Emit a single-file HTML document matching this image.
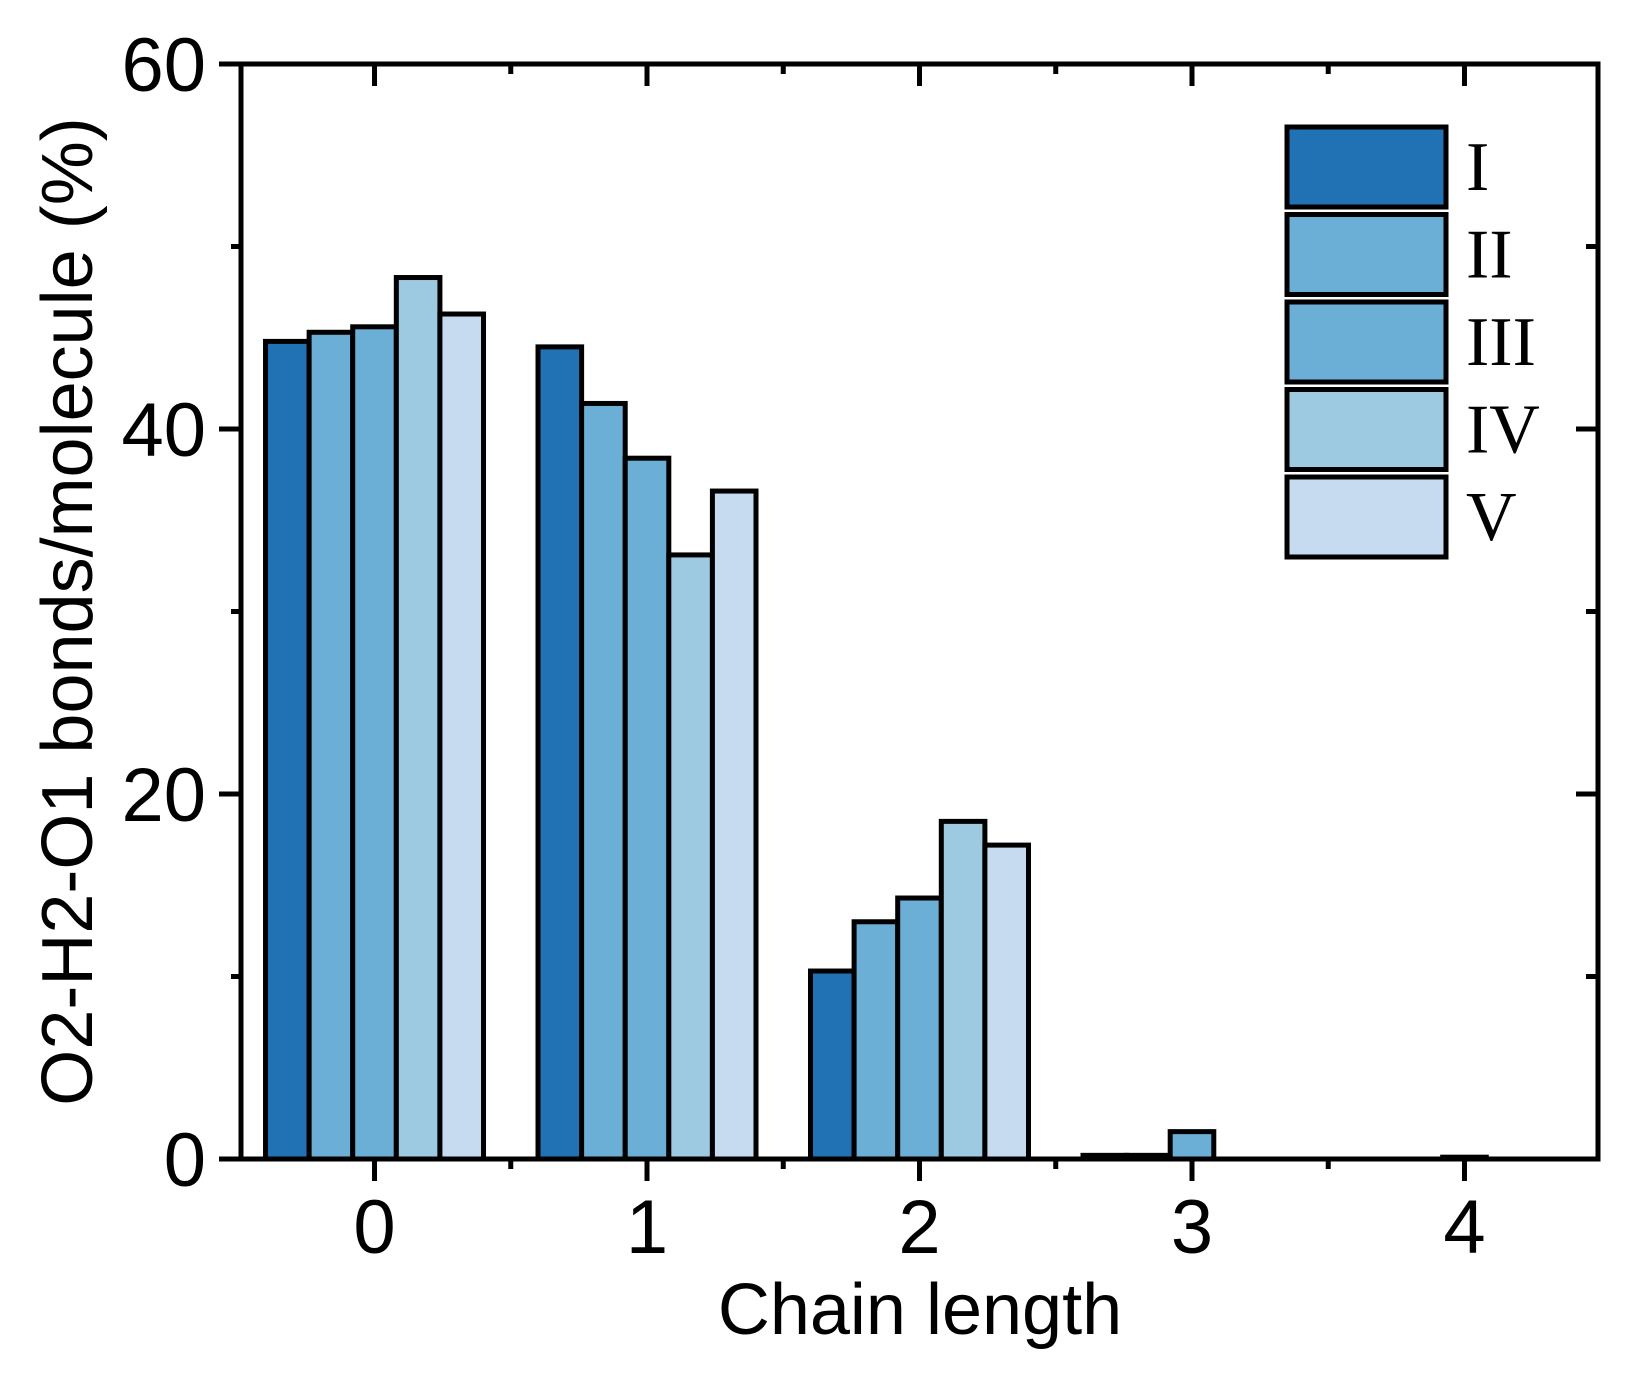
<!DOCTYPE html>
<html><head><meta charset="utf-8"><style>
html,body{margin:0;padding:0;background:#fff;}
svg{display:block;}
</style></head><body>
<svg id="chart" width="1645" height="1389" viewBox="0 0 1645 1389" xmlns="http://www.w3.org/2000/svg">
<g id="bars"></g>
<g id="axes"></g>
<g id="legend"></g>
</svg>
<script>
const categories = [0, 1, 2, 3, 4];
const seriesNames = ["I", "II", "III", "IV", "V"];
const seriesI   = [44.8, 44.5, 10.3, 0.2, 0];
const seriesII  = [45.3, 41.4, 13.0, 0.2, 0];
const seriesIII = [45.6, 38.4, 14.3, 1.5, 0.1];
const seriesIV  = [48.3, 33.1, 18.5, 0, 0];
const seriesV   = [46.3, 36.6, 17.2, 0, 0];
const yTicks = [0, 20, 40, 60];
const yMinor = [10, 30, 50];
const xMinor = [-0.5, 0.5, 1.5, 2.5, 3.5, 4.5];

const colors = ["#2171b5", "#6baed6", "#6baed6", "#9ecae1", "#c6dbef"];
const allSeries = [seriesI, seriesII, seriesIII, seriesIV, seriesV];
const NS = "http://www.w3.org/2000/svg";
const L = 241, R = 1598, T = 64, B = 1159;
const xMin = -0.49, xMax = 4.49, yMin = 0, yMax = 60;
function xs(v){ return L + (v - xMin) / (xMax - xMin) * (R - L); }
function ys(v){ return B - (v - yMin) / (yMax - yMin) * (B - T); }
function mk(tag, attrs, parent){
  const e = document.createElementNS(NS, tag);
  for (const k in attrs) e.setAttribute(k, attrs[k]);
  parent.appendChild(e);
  return e;
}
const barsG = document.getElementById('bars');
const axesG = document.getElementById('axes');
const legG = document.getElementById('legend');
const bw = 0.16;
allSeries.forEach((s, si) => {
  s.forEach((v, ci) => {
    if (v <= 0) return;
    const xc = categories[ci] + (si - 2) * bw;
    const x0 = xs(xc - bw / 2), x1 = xs(xc + bw / 2);
    const r = mk('rect', {x: x0, y: ys(v), width: x1 - x0, height: ys(0) - ys(v), fill: colors[si], stroke: '#000', 'stroke-width': 5}, barsG);
    
    
  });
});
const fr = mk('rect', {x: L, y: T, width: R - L, height: B - T, fill: 'none', stroke: '#000', 'stroke-width': 5}, axesG);


yTicks.forEach(v => {
  const y = ys(v);
  mk('line', {x1: L - 22, x2: L, y1: y, y2: y, stroke: '#000', 'stroke-width': 5}, axesG);
  mk('line', {x1: R - 22, x2: R, y1: y, y2: y, stroke: '#000', 'stroke-width': 5}, axesG);
  const t = mk('text', {x: 206, y: y + 27, 'text-anchor': 'end', 'font-family': 'Liberation Sans, sans-serif', 'font-size': 76, fill: '#000'}, axesG);
  t.textContent = v;
  
  
});
yMinor.forEach(v => {
  const y = ys(v);
  mk('line', {x1: L - 10, x2: L, y1: y, y2: y, stroke: '#000', 'stroke-width': 5}, axesG);
  mk('line', {x1: R - 12, x2: R, y1: y, y2: y, stroke: '#000', 'stroke-width': 5}, axesG);
});
categories.forEach(c => {
  const x = xs(c);
  mk('line', {x1: x, x2: x, y1: B, y2: B + 22, stroke: '#000', 'stroke-width': 5}, axesG);
  mk('line', {x1: x, x2: x, y1: T, y2: T + 22, stroke: '#000', 'stroke-width': 5}, axesG);
  const t = mk('text', {x: x, y: B + 94, 'text-anchor': 'middle', 'font-family': 'Liberation Sans, sans-serif', 'font-size': 76, fill: '#000'}, axesG);
  t.textContent = c;
  
  
});
xMinor.forEach(c => {
  const x = xs(c);
  if (x < L - 1 || x > R + 1) return;
  mk('line', {x1: x, x2: x, y1: B, y2: B + 10, stroke: '#000', 'stroke-width': 5}, axesG);
  mk('line', {x1: x, x2: x, y1: T, y2: T + 10, stroke: '#000', 'stroke-width': 5}, axesG);
});
const xt = mk('text', {x: 920, y: 1334, 'text-anchor': 'middle', 'font-family': 'Liberation Sans, sans-serif', 'font-size': 72, fill: '#000'}, axesG);
xt.textContent = 'Chain length';


const yt = mk('text', {x: 0, y: 0, transform: 'translate(92,' + ((T + B) / 2) + ') rotate(-90)', 'text-anchor': 'middle', 'font-family': 'Liberation Sans, sans-serif', 'font-size': 72, fill: '#000'}, axesG);
yt.textContent = 'O2-H2-O1 bonds/molecule (%)';


seriesNames.forEach((n, i) => {
  const y0 = 127 + i * 87.5;
  const r = mk('rect', {x: 1287, y: y0, width: 159, height: 80, fill: colors[i], stroke: '#000', 'stroke-width': 5}, legG);
  
  
  const t = mk('text', {x: 1466, y: y0 + 63, 'font-family': 'Liberation Serif, serif', 'font-size': 70, fill: '#000'}, legG);
  t.textContent = n;
  
  
});
</script>
</body></html>
